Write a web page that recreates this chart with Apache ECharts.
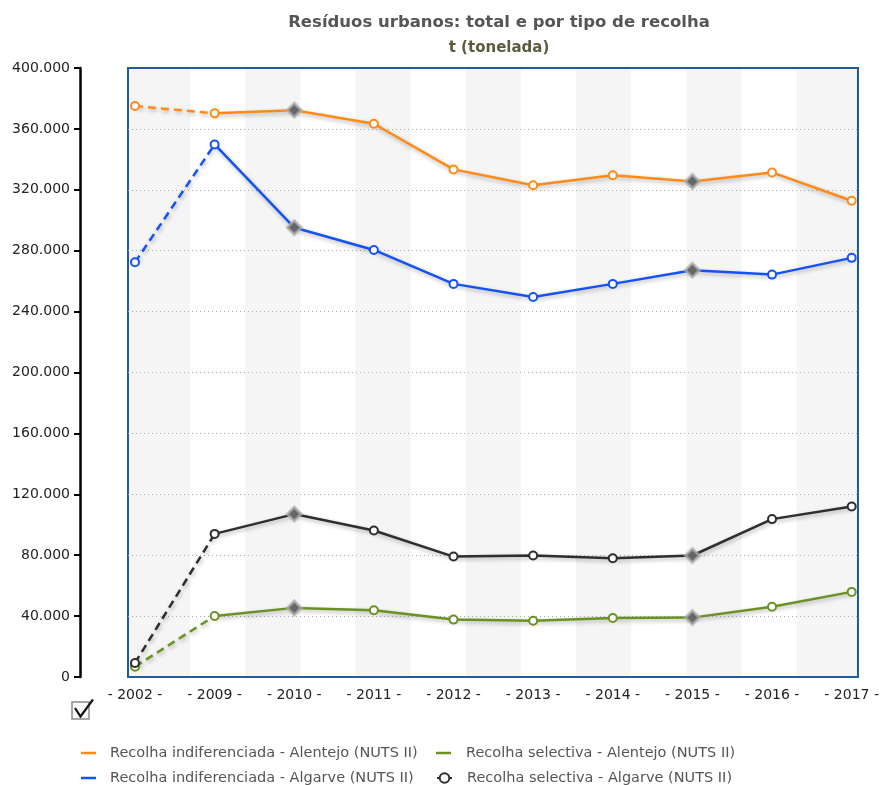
<!DOCTYPE html>
<html>
<head>
<meta charset="utf-8">
<title>Resíduos urbanos</title>
<script src="https://cdn.jsdelivr.net/npm/echarts@6/dist/echarts.min.js"></script>
<style>
  html, body { margin: 0; padding: 0; background: #fff; }
  #chart { width: 882px; height: 785px; }
</style>
</head>
<body>
<div id="chart"></div>
<script>
// Anos de referência e valores (toneladas)
const years = ['2002', '2009', '2010', '2011', '2012', '2013', '2014', '2015', '2016', '2017'];
const indifAlentejo = [375000, 370200, 372300, 363400, 333400, 323000, 329600, 325500, 331400, 312800];
const indifAlgarve  = [272400, 349800, 295200, 280500, 258200, 249600, 258200, 267200, 264300, 275300];
const selectAlentejo = [6800, 40100, 45400, 43800, 37700, 37000, 38800, 39000, 46200, 55900];
const selectAlgarve  = [9200, 94000, 107000, 96200, 79100, 79800, 78000, 79800, 103700, 112000];
// Anos assinalados com losango (quebra de série)
const flaggedYears = ['2010', '2015'];
const yTicks = { min: 0, max: 400000, step: 40000 };

const seriesDefs = [
  { name: 'Recolha indiferenciada - Alentejo (NUTS II)', values: indifAlentejo, color: '#ff8b17' },
  { name: 'Recolha indiferenciada - Algarve (NUTS II)', values: indifAlgarve, color: '#1452f5' },
  { name: 'Recolha selectiva - Alentejo (NUTS II)', values: selectAlentejo, color: '#6a9122' },
  { name: 'Recolha selectiva - Algarve (NUTS II)', values: selectAlgarve, color: '#2e2e2e' }
];

const FONT = 'Verdana, "DejaVu Sans", sans-serif';
const fmtThousands = v => String(v).replace(/\B(?=(\d{3})+(?!\d))/g, '.');

const lineShadow = { shadowColor: 'rgba(0,0,0,0.3)', shadowBlur: 4, shadowOffsetX: 1, shadowOffsetY: 2 };

function pointItem(i, v) {
  if (flaggedYears.includes(years[i])) {
    return {
      value: [i, v],
      symbol: 'diamond',
      symbolSize: 14,
      itemStyle: { color: '#666666', borderColor: 'rgba(175,175,175,0.7)', borderWidth: 3 }
    };
  }
  return [i, v];
}

const series = [];

// Faixas verticais de fundo (13 faixas entre o primeiro e o último ano)
const nBands = 13;
const bandUnit = (years.length - 1) / nBands;
const whiteBands = [];
for (let k = 1; k < nBands - 1; k += 2) whiteBands.push([k * bandUnit, (k + 1) * bandUnit]);
series.push({
  type: 'custom',
  silent: true,
  z: -1,
  data: whiteBands,
  renderItem: (params, api) => {
    const p0 = api.coord([api.value(0), yTicks.max]);
    const p1 = api.coord([api.value(1), yTicks.min]);
    return {
      type: 'rect',
      shape: { x: p0[0], y: p0[1] + 1, width: p1[0] - p0[0], height: p1[1] - p0[1] - 2 },
      style: { fill: '#ffffff' }
    };
  }
});

seriesDefs.forEach(def => {
  // troço contínuo (2009 em diante)
  series.push({
    name: def.name,
    type: 'line',
    z: 3,
    data: def.values.map((v, i) => pointItem(i, v)).slice(1),
    symbol: 'emptyCircle',
    symbolSize: 8,
    showAllSymbol: true,
    itemStyle: { color: def.color, borderWidth: 1.5 },
    lineStyle: Object.assign({ color: def.color, width: 2.5 }, lineShadow),
    emphasis: { disabled: true }
  });
});
seriesDefs.forEach(def => {
  // troço tracejado entre 2002 e 2009
  series.push({
    name: def.name,
    type: 'line',
    z: 2,
    data: [[0, def.values[0]], { value: [1, def.values[1]], symbol: 'none' }],
    symbol: 'emptyCircle',
    symbolSize: 8,
    itemStyle: { color: def.color, borderWidth: 1.5 },
    lineStyle: Object.assign({ color: def.color, width: 2.5, type: [8, 5] }, lineShadow),
    emphasis: { disabled: true }
  });
});

// Legenda em duas colunas, uma entrada por bloco
const lineIcon = 'path://M0,0H15V2.5H0Z';
const legendSlots = [
  { def: 0, left: 81, top: 745, icon: lineIcon },
  { def: 1, left: 81, top: 770, icon: lineIcon },
  { def: 2, left: 436, top: 745, icon: lineIcon },
  { def: 3, left: 436, top: 770, icon: null }
];
const legends = legendSlots.map(s => {
  const item = { name: seriesDefs[s.def].name };
  if (s.icon) item.icon = s.icon;
  return {
    orient: 'horizontal',
    left: s.left,
    top: s.top,
    padding: 0,
    itemWidth: 15,
    itemHeight: 12,
    data: [item],
    textStyle: { fontFamily: FONT, fontSize: 14.5, color: '#555', lineHeight: 16,
                 padding: [0, 0, 0, s.left > 200 ? 10 : 9] }
  };
});

const option = {
  animation: false,
  backgroundColor: '#ffffff',
  title: [
    { text: 'Resíduos urbanos: total e por tipo de recolha', left: 494, textAlign: 'center', top: 9,
      textStyle: { fontFamily: FONT, fontSize: 16.5, fontWeight: 'bold', color: '#555555' } },
    { text: 't (tonelada)', left: 494, textAlign: 'center', top: 36,
      textStyle: { fontFamily: FONT, fontSize: 15, fontWeight: 'bold', color: '#5c5b3f' } }
  ],
  legend: legends,
  grid: {
    show: true, z: -2,
    left: 128, right: 22, top: 68, bottom: 108,
    backgroundColor: '#f5f5f5',
    borderColor: '#1f5c98', borderWidth: 2
  },
  xAxis: {
    type: 'value',
    min: -0.0877,
    max: years.length - 1 + 0.079,
    axisLine: { show: false },
    axisTick: { show: false },
    splitLine: { show: false },
    axisLabel: {
      customValues: years.map((y, i) => i),
      formatter: v => '- ' + years[Math.round(v)] + ' -',
      margin: 11,
      fontFamily: FONT, fontSize: 14, color: '#222'
    }
  },
  yAxis: {
    type: 'value',
    min: yTicks.min, max: yTicks.max, interval: yTicks.step,
    position: 'left',
    offset: 48,
    axisLine: { show: true, onZero: false, lineStyle: { color: '#000', width: 2.5 } },
    axisTick: { show: true, length: 6, lineStyle: { color: '#000', width: 2 } },
    axisLabel: { formatter: fmtThousands, margin: 10, fontFamily: FONT, fontSize: 14, color: '#222' },
    splitLine: { show: true, showMinLine: false, showMaxLine: false,
                 lineStyle: { color: '#a8a8a8', type: [1, 3], width: 1 } }
  },
  graphic: [{
    type: 'group',
    children: [
      { type: 'rect', shape: { x: 72, y: 702, width: 17, height: 17 },
        style: { fill: '#fafafa', stroke: '#8c8c8c', lineWidth: 1.5 } },
      { type: 'polyline', shape: { points: [[75, 708], [80.5, 716.5], [93, 699.5]] },
        style: { stroke: '#151515', lineWidth: 2.2, fill: null } }
    ]
  }],
  series: series
};

const chart = echarts.init(document.getElementById('chart'), null, { renderer: 'canvas' });
chart.setOption(option);
</script>
</body>
</html>
